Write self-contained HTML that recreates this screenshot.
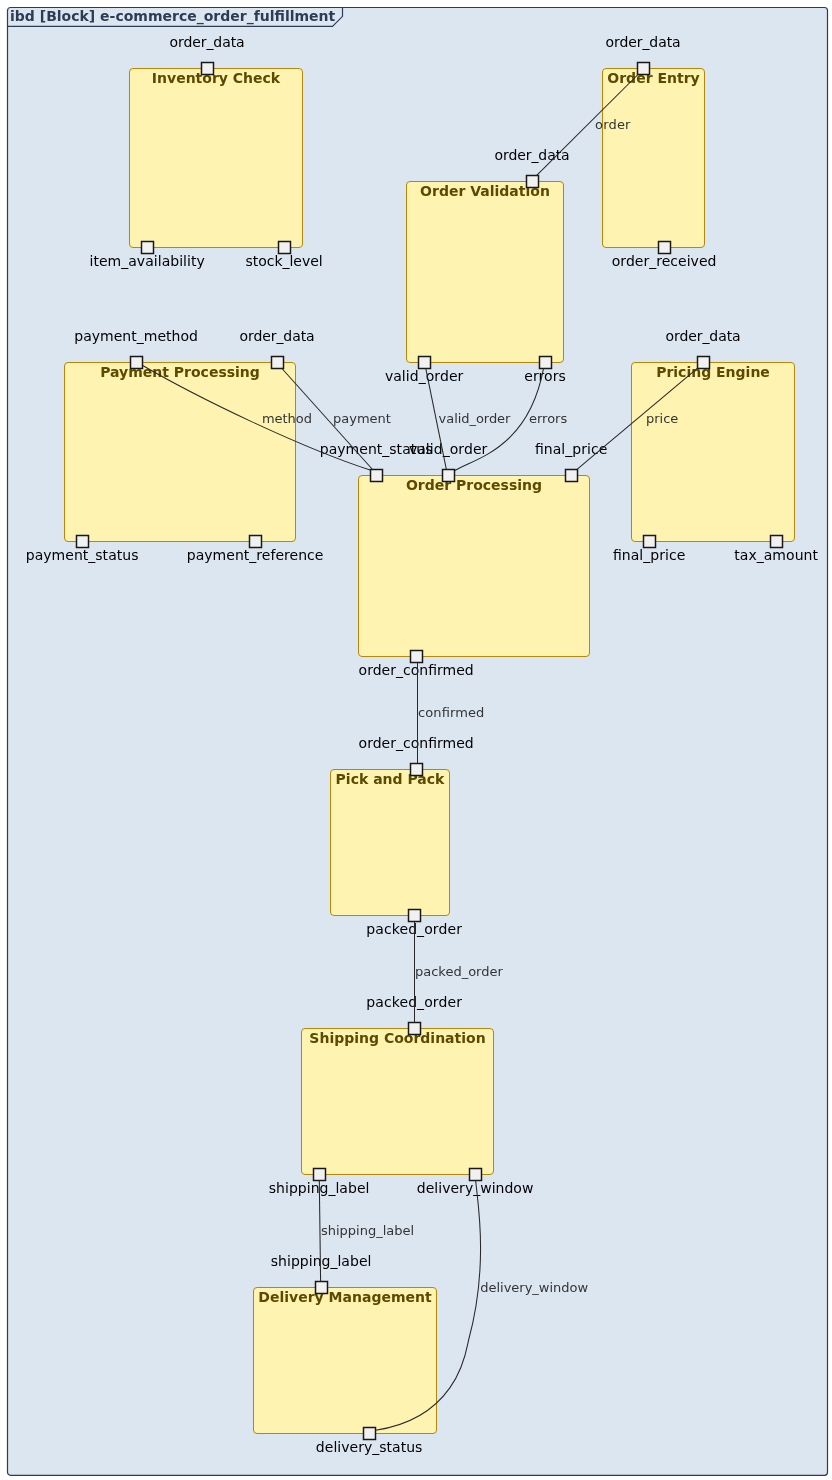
<!DOCTYPE html>
<html><head><meta charset="utf-8"><title>ibd e-commerce_order_fulfillment</title>
<style>
html,body{margin:0;padding:0;background:#fff;width:832px;height:1480px;overflow:hidden}
text{font-family:"DejaVu Sans","Liberation Sans",sans-serif}
.b{font-size:14px;font-weight:bold}
.p{font-size:14px}
.e{font-size:13px}
</style></head><body>
<svg width="832" height="1480" viewBox="0 0 832 1480" style="display:block;position:absolute;left:0;top:0;will-change:transform">
<rect x="7.5" y="7.5" width="820" height="1467.8" rx="3" ry="3" fill="#DCE6F1" stroke="#2E3B54" stroke-width="1.2"/>
<path d="M342.5,7.5 L342.5,16.3 L332.5,26.3 L7.5,26.3" fill="none" stroke="#2E3B54" stroke-width="1.2"/>
<text x="10" y="21" class="b" textLength="325.25" fill="#2E3B54">ibd [Block] e-commerce_order_fulfillment</text>
<rect x="129.5" y="68.5" width="173.0" height="179.0" rx="3.5" ry="3.5" fill="#FEF3B0" stroke="#B8860B" stroke-width="1"/>
<text x="151.83" y="83.0" class="b" textLength="128.34" fill="#5C4A00">Inventory Check</text>
<rect x="602.5" y="68.5" width="102.0" height="179.0" rx="3.5" ry="3.5" fill="#FEF3B0" stroke="#B8860B" stroke-width="1"/>
<text x="607.32" y="83.0" class="b" textLength="92.36" fill="#5C4A00">Order Entry</text>
<rect x="406.5" y="181.5" width="157.0" height="181.0" rx="3.5" ry="3.5" fill="#FEF3B0" stroke="#B8860B" stroke-width="1"/>
<text x="420.12" y="196.0" class="b" textLength="129.77" fill="#5C4A00">Order Validation</text>
<rect x="64.5" y="362.5" width="231.0" height="179.0" rx="3.5" ry="3.5" fill="#FEF3B0" stroke="#B8860B" stroke-width="1"/>
<text x="100.16" y="377.0" class="b" textLength="159.69" fill="#5C4A00">Payment Processing</text>
<rect x="631.5" y="362.5" width="163.0" height="179.0" rx="3.5" ry="3.5" fill="#FEF3B0" stroke="#B8860B" stroke-width="1"/>
<text x="656.13" y="377.0" class="b" textLength="113.73" fill="#5C4A00">Pricing Engine</text>
<rect x="358.5" y="475.5" width="231.0" height="181.0" rx="3.5" ry="3.5" fill="#FEF3B0" stroke="#B8860B" stroke-width="1"/>
<text x="405.93" y="490.0" class="b" textLength="136.14" fill="#5C4A00">Order Processing</text>
<rect x="330.5" y="769.5" width="119.0" height="146.0" rx="3.5" ry="3.5" fill="#FEF3B0" stroke="#B8860B" stroke-width="1"/>
<text x="335.6" y="784.0" class="b" textLength="108.81" fill="#5C4A00">Pick and Pack</text>
<rect x="301.5" y="1028.5" width="192.0" height="146.0" rx="3.5" ry="3.5" fill="#FEF3B0" stroke="#B8860B" stroke-width="1"/>
<text x="309.36" y="1043.0" class="b" textLength="176.28" fill="#5C4A00">Shipping Coordination</text>
<rect x="253.5" y="1287.5" width="183.0" height="146.0" rx="3.5" ry="3.5" fill="#FEF3B0" stroke="#B8860B" stroke-width="1"/>
<text x="258.33" y="1302.0" class="b" textLength="173.33" fill="#5C4A00">Delivery Management</text>
<rect x="201.5" y="62.5" width="12" height="12" fill="#F1F1F1" stroke="#181818" stroke-width="1.5"/>
<rect x="141.5" y="241.5" width="12" height="12" fill="#F1F1F1" stroke="#181818" stroke-width="1.5"/>
<rect x="278.5" y="241.5" width="12" height="12" fill="#F1F1F1" stroke="#181818" stroke-width="1.5"/>
<rect x="637.5" y="62.5" width="12" height="12" fill="#F1F1F1" stroke="#181818" stroke-width="1.5"/>
<rect x="658.5" y="241.5" width="12" height="12" fill="#F1F1F1" stroke="#181818" stroke-width="1.5"/>
<rect x="526.5" y="175.5" width="12" height="12" fill="#F1F1F1" stroke="#181818" stroke-width="1.5"/>
<rect x="418.5" y="356.5" width="12" height="12" fill="#F1F1F1" stroke="#181818" stroke-width="1.5"/>
<rect x="539.5" y="356.5" width="12" height="12" fill="#F1F1F1" stroke="#181818" stroke-width="1.5"/>
<rect x="130.5" y="356.5" width="12" height="12" fill="#F1F1F1" stroke="#181818" stroke-width="1.5"/>
<rect x="271.5" y="356.5" width="12" height="12" fill="#F1F1F1" stroke="#181818" stroke-width="1.5"/>
<rect x="76.5" y="535.5" width="12" height="12" fill="#F1F1F1" stroke="#181818" stroke-width="1.5"/>
<rect x="249.5" y="535.5" width="12" height="12" fill="#F1F1F1" stroke="#181818" stroke-width="1.5"/>
<rect x="697.5" y="356.5" width="12" height="12" fill="#F1F1F1" stroke="#181818" stroke-width="1.5"/>
<rect x="643.5" y="535.5" width="12" height="12" fill="#F1F1F1" stroke="#181818" stroke-width="1.5"/>
<rect x="770.5" y="535.5" width="12" height="12" fill="#F1F1F1" stroke="#181818" stroke-width="1.5"/>
<rect x="370.5" y="469.5" width="12" height="12" fill="#F1F1F1" stroke="#181818" stroke-width="1.5"/>
<rect x="442.5" y="469.5" width="12" height="12" fill="#F1F1F1" stroke="#181818" stroke-width="1.5"/>
<rect x="565.5" y="469.5" width="12" height="12" fill="#F1F1F1" stroke="#181818" stroke-width="1.5"/>
<rect x="410.5" y="650.5" width="12" height="12" fill="#F1F1F1" stroke="#181818" stroke-width="1.5"/>
<rect x="410.5" y="763.5" width="12" height="12" fill="#F1F1F1" stroke="#181818" stroke-width="1.5"/>
<rect x="408.5" y="909.5" width="12" height="12" fill="#F1F1F1" stroke="#181818" stroke-width="1.5"/>
<rect x="408.5" y="1022.5" width="12" height="12" fill="#F1F1F1" stroke="#181818" stroke-width="1.5"/>
<rect x="313.5" y="1168.5" width="12" height="12" fill="#F1F1F1" stroke="#181818" stroke-width="1.5"/>
<rect x="469.5" y="1168.5" width="12" height="12" fill="#F1F1F1" stroke="#181818" stroke-width="1.5"/>
<rect x="315.5" y="1281.5" width="12" height="12" fill="#F1F1F1" stroke="#181818" stroke-width="1.5"/>
<rect x="363.5" y="1427.5" width="12" height="12" fill="#F1F1F1" stroke="#181818" stroke-width="1.5"/>
<text x="169.58" y="47" class="p" textLength="75.04" fill="#000000">order_data</text>
<text x="89.47" y="266" class="p" textLength="115.25" fill="#000000">item_availability</text>
<text x="245.58" y="266" class="p" textLength="77.04" fill="#000000">stock_level</text>
<text x="605.58" y="47" class="p" textLength="75.04" fill="#000000">order_data</text>
<text x="611.78" y="266" class="p" textLength="104.64" fill="#000000">order_received</text>
<text x="494.58" y="160" class="p" textLength="75.04" fill="#000000">order_data</text>
<text x="384.88" y="381" class="p" textLength="78.44" fill="#000000">valid_order</text>
<text x="524.37" y="381" class="p" textLength="41.46" fill="#000000">errors</text>
<text x="74.24" y="341" class="p" textLength="123.72" fill="#000000">payment_method</text>
<text x="239.58" y="341" class="p" textLength="75.04" fill="#000000">order_data</text>
<text x="25.76" y="560" class="p" textLength="112.68" fill="#000000">payment_status</text>
<text x="186.76" y="560" class="p" textLength="136.67" fill="#000000">payment_reference</text>
<text x="665.58" y="341" class="p" textLength="75.04" fill="#000000">order_data</text>
<text x="612.95" y="560" class="p" textLength="72.3" fill="#000000">final_price</text>
<text x="734.27" y="560" class="p" textLength="83.66" fill="#000000">tax_amount</text>
<text x="319.76" y="454" class="p" textLength="112.68" fill="#000000">payment_status</text>
<text x="408.88" y="454" class="p" textLength="78.44" fill="#000000">valid_order</text>
<text x="534.95" y="454" class="p" textLength="72.3" fill="#000000">final_price</text>
<text x="358.55" y="675" class="p" textLength="115.11" fill="#000000">order_confirmed</text>
<text x="358.55" y="748" class="p" textLength="115.11" fill="#000000">order_confirmed</text>
<text x="366.31" y="934" class="p" textLength="95.59" fill="#000000">packed_order</text>
<text x="366.31" y="1007" class="p" textLength="95.59" fill="#000000">packed_order</text>
<text x="268.77" y="1193" class="p" textLength="100.66" fill="#000000">shipping_label</text>
<text x="416.79" y="1193" class="p" textLength="116.63" fill="#000000">delivery_window</text>
<text x="270.77" y="1266" class="p" textLength="100.66" fill="#000000">shipping_label</text>
<text x="315.84" y="1452" class="p" textLength="106.52" fill="#000000">delivery_status</text>
<path d="M638.5,74 L536.7,175.3" fill="none" stroke="#282828" stroke-width="1.05"/>
<path d="M425.8,368.7 L446.3,469.2" fill="none" stroke="#282828" stroke-width="1.05"/>
<path d="M543.5,368.7 C527.9,450.1 473.8,458.4 454.6,470.8" fill="none" stroke="#282828" stroke-width="1.05"/>
<path d="M142.7,365.5 C199.2,398.4 300.4,447.3 370.8,470.3" fill="none" stroke="#282828" stroke-width="1.05"/>
<path d="M281.5,368 L372.1,469" fill="none" stroke="#282828" stroke-width="1.05"/>
<path d="M698.2,367.7 L577,469.4" fill="none" stroke="#282828" stroke-width="1.05"/>
<path d="M417.5,662.5 L417.5,763.5" fill="none" stroke="#282828" stroke-width="1.05"/>
<path d="M414.5,921.5 L414.5,1022.5" fill="none" stroke="#282828" stroke-width="1.05"/>
<path d="M319.3,1180 L320.6,1281.6" fill="none" stroke="#282828" stroke-width="1.05"/>
<path d="M475.6,1180.3 C477.6,1201.2 489.0,1265.3 468.6,1340.0 C466.5,1348.0 459.6,1417.6 375.6,1430.3" fill="none" stroke="#282828" stroke-width="1.05"/>
<text x="595" y="129" class="e" textLength="35.46" fill="#343434">order</text>
<text x="438.6" y="423" class="e" textLength="71.78" fill="#343434">valid_order</text>
<text x="529" y="423" class="e" textLength="38.23" fill="#343434">errors</text>
<text x="262" y="423" class="e" textLength="49.99" fill="#343434">method</text>
<text x="333" y="423" class="e" textLength="57.89" fill="#343434">payment</text>
<text x="646" y="423" class="e" textLength="32.34" fill="#343434">price</text>
<text x="418.1" y="717" class="e" textLength="66.13" fill="#343434">confirmed</text>
<text x="415" y="976" class="e" textLength="87.83" fill="#343434">packed_order</text>
<text x="321" y="1235" class="e" textLength="93.14" fill="#343434">shipping_label</text>
<text x="480.2" y="1292" class="e" textLength="107.98" fill="#343434">delivery_window</text>
</svg>
</body></html>
